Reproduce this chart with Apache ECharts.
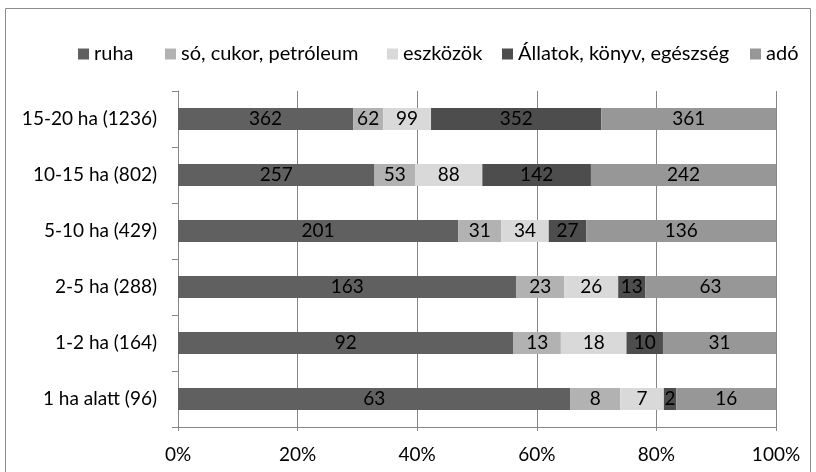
<!DOCTYPE html>
<html><head><meta charset="utf-8">
<script src="https://cdn.jsdelivr.net/npm/echarts@6/dist/echarts.min.js"></script>
<style>html,body{margin:0;padding:0;background:#fff}#c{width:816px;height:472px}</style>
</head><body><div id="c"></div>
<script>
const categories = ['1 ha alatt (96)','1-2 ha (164)','2-5 ha (288)','5-10 ha (429)','10-15 ha (802)','15-20 ha (1236)'];
const seriesNames = ['ruha','só, cukor, petróleum','eszközök','Állatok, könyv, egészség','adó'];
const ruha = [63, 92, 163, 201, 257, 362];
const so = [8, 13, 23, 31, 53, 62];
const eszkozok = [7, 18, 26, 34, 88, 99];
const allatok = [2, 10, 13, 27, 142, 352];
const ado = [16, 31, 63, 136, 242, 361];
const xTicks = ['0%','20%','40%','60%','80%','100%'];
const colors = ['#606060','#b2b2b2','#d9d9d9','#4d4d4d','#979797'];

const raw = [ruha, so, eszkozok, allatok, ado];
const totals = categories.map((_, i) => raw.reduce((s, a) => s + a[i], 0));
const font = "Lato, sans-serif";
const fs = 19;
const legendX = [73, 160, 382, 497, 745];
const chart = echarts.init(document.getElementById('c'));
chart.setOption({
  animation: false,
  textStyle: {fontFamily: font},
  graphic: [{type:'rect', shape:{x:5.5,y:8.5,width:805,height:470}, style:{fill:'none', stroke:'#8c8c8c', lineWidth:1}, silent:true}],
  legend: seriesNames.map((name, k) => ({
    top: 39, left: legendX[k], itemWidth: 11, itemHeight: 11,
    icon: 'rect',
    textStyle: {fontFamily: font, fontSize: 20, color: '#000'},
    data: [name]
  })),
  grid: {left: 178, right: 40, top: 91, bottom: 45, containLabel: false},
  xAxis: {
    type: 'value', min: 0, max: 100, interval: 20,
    axisLine: {show: true, lineStyle: {color: '#868686'}},
    axisTick: {show: true, length: 4, lineStyle: {color: '#868686'}},
    splitLine: {show: true, lineStyle: {color: '#868686', width: 1}},
    axisLabel: {margin: 18, fontSize: fs, color: '#000', fontFamily: font,
      formatter: (v) => xTicks[Math.round(v / 20)]}
  },
  yAxis: {
    type: 'category', data: categories,
    axisLine: {show: true, lineStyle: {color: '#868686'}},
    axisTick: {show: true, length: 6, lineStyle: {color: '#868686'}},
    axisLabel: {margin: 21, fontSize: fs, color: '#000', fontFamily: font}
  },
  series: seriesNames.map((name, k) => ({
    name, type: 'bar', stack: 'all', barWidth: 22,
    itemStyle: {color: colors[k]},
    label: {show: true, position: 'inside', color: '#000', fontSize: fs, fontFamily: font,
      formatter: (p) => String(raw[k][p.dataIndex])},
    data: raw[k].map((v, i) => v / totals[i] * 100)
  }))
});
</script></body></html>
